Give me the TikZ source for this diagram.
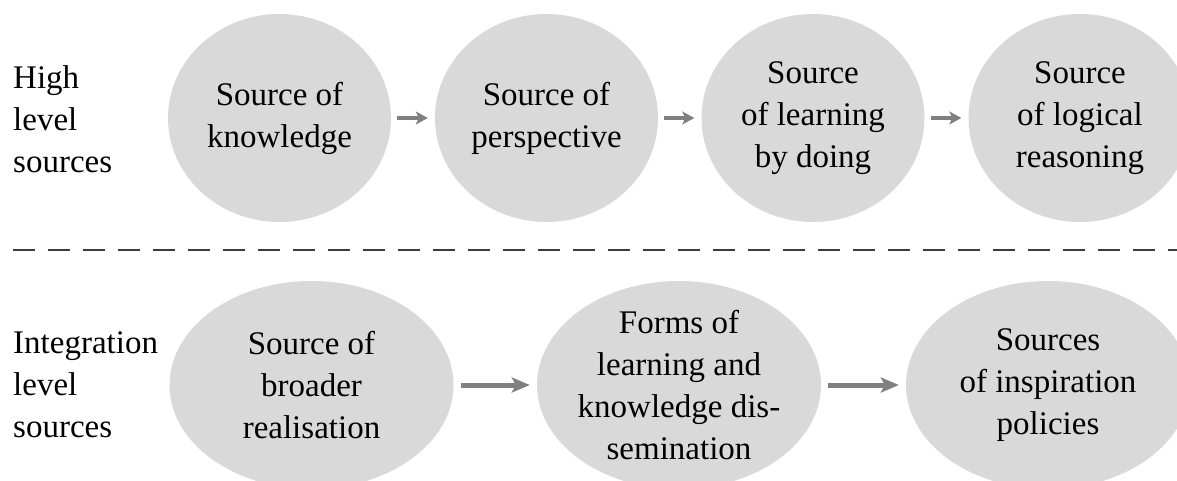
\documentclass[tikz,border=0pt]{standalone}
\usepackage{fontspec}
\setmainfont{Liberation Serif}
\usetikzlibrary{shapes.geometric,arrows.meta}
\definecolor{blobgray}{RGB}{217,217,217}
\definecolor{arrgray}{RGB}{128,128,128}
\definecolor{dashgray}{RGB}{60,60,60}
\begin{document}
\begin{tikzpicture}[x=1pt,y=-1pt,
  topblob/.style={ellipse, fill=blobgray, minimum width=223pt, minimum height=208pt, inner sep=0pt},
  botblob/.style={ellipse, fill=blobgray, minimum width=284pt, minimum height=208pt, inner sep=0pt},
  txt/.style={align=center, font=\fontsize{33}{42}\selectfont, inner sep=0pt},
  side/.style={align=left, anchor=west, font=\fontsize{33}{42}\selectfont, inner sep=0pt},
  smallarr/.style={draw=arrgray, line width=3.5pt, -{Stealth[length=12pt,width=13pt,inset=3pt,fill=arrgray]}, shorten <=6pt, shorten >=7pt},
  bigarr/.style={draw=arrgray, line width=5pt, -{Stealth[length=18pt,width=15pt,inset=4pt,fill=arrgray]}, shorten <=7pt, shorten >=7pt},
  dashline/.style={draw=dashgray, line width=1.5pt, dash pattern=on 22pt off 13pt}]
\useasboundingbox (0,0) rectangle (1177,481);
\clip (0,0) rectangle (1177,481);

% left labels
\node[side] (hl) at (13,119) {High\\level\\sources};
\node[side] (il) at (13,385) {Integration\\level\\sources};

% top row
\node[topblob] (t1) at (279.5,118) {};
\node[topblob] (t2) at (546.5,118) {};
\node[topblob] (t3) at (813,118) {};
\node[topblob] (t4) at (1080,118) {};
\node[txt] at (t1) {Source of\\knowledge};
\node[txt] at (t2) {Source of\\perspective};
\node[txt] at (t3) {Source\\of learning\\by doing};
\node[txt] at (t4) {Source\\of logical\\reasoning};
\draw[smallarr] (t1) -- (t2);
\draw[smallarr] (t2) -- (t3);
\draw[smallarr] (t3) -- (t4);

% divider
\coordinate (dl) at (13,250);
\coordinate (dr) at (1177,250);
\draw[dashline] (dl) -- (dr);

% bottom row
\node[botblob] (b1) at (311.5,385) {};
\node[botblob] (b2) at (679,385) {};
\node[botblob] (b3) at (1048,385) {};
\node[txt] at (b1) {Source of\\broader\\realisation};
\node[txt] at (b2) {Forms of\\learning and\\knowledge dis-\\semination};
\node[txt] at (b3) {Sources\\of inspiration\\policies};
\draw[bigarr] (b1) -- (b2);
\draw[bigarr] (b2) -- (b3);
\end{tikzpicture}
\end{document}
